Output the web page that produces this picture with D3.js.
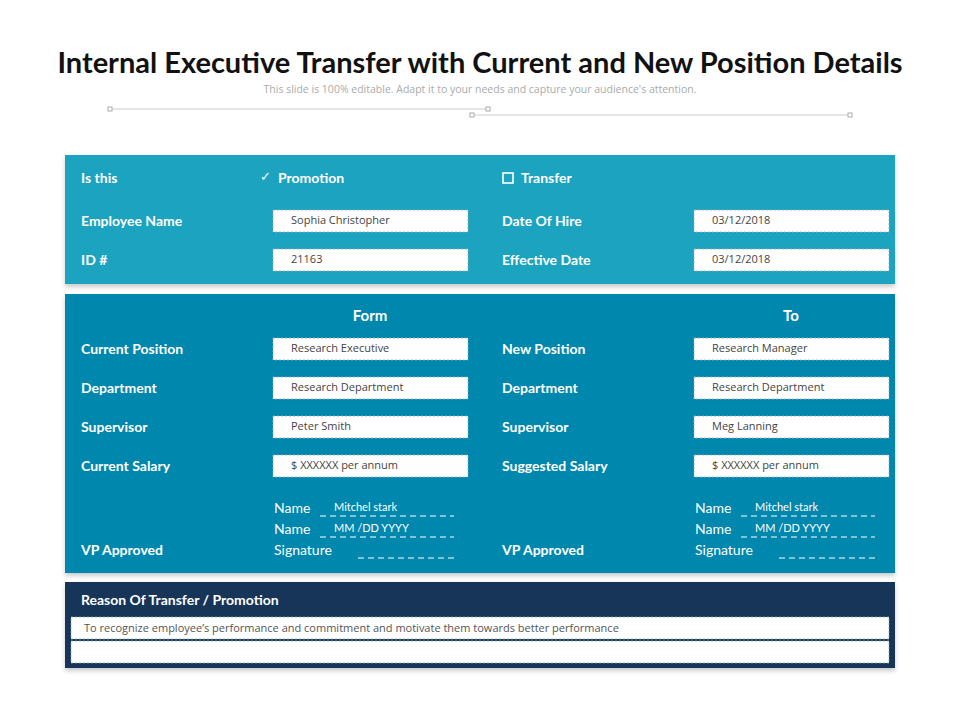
<!DOCTYPE html>
<html><head><meta charset="utf-8">
<script src="https://cdn.jsdelivr.net/npm/d3@7"></script>
<style>body{margin:0;background:#fff}</style></head>
<body><svg id="c" width="960" height="720"></svg>
<script>
const title = "Internal Executive Transfer  with Current and New Position Details";
const subtitle = "This slide is 100% editable. Adapt it to your needs and capture your audience's attention.";
const topRows = [
  {y:222, l:"Employee Name", lv:"Sophia Christopher", r:"Date Of Hire", rv:"03/12/2018"},
  {y:261, l:"ID #", lv:"21163", r:"Effective Date", rv:"03/12/2018"}
];
const midRows = [
  {y:350, l:"Current Position", lv:"Research Executive", r:"New Position", rv:"Research Manager"},
  {y:389, l:"Department", lv:"Research Department", r:"Department", rv:"Research Department"},
  {y:428, l:"Supervisor", lv:"Peter Smith", r:"Supervisor", rv:"Meg Lanning"},
  {y:467, l:"Current Salary", lv:"$ XXXXXX  per annum", r:"Suggested Salary", rv:"$ XXXXXX  per annum"}
];
const sigLabels = ["Name","Name","Signature"];
const sigValues = ["Mitchel stark","MM /DD  YYYY",""];
const reason = "To recognize employee’s performance and commitment and motivate them towards better performance";

const svg = d3.select("#c");
const F = "Lato, 'Open Sans', sans-serif";
svg.append("text").attr("x",480).attr("y",73).attr("text-anchor","middle").attr("font-family",F)
  .attr("font-weight","bold").attr("font-size",29).attr("fill","#111").text(title);
svg.append("text").attr("x",480).attr("y",93).attr("text-anchor","middle").attr("font-family","'Open Sans',sans-serif")
  .attr("font-size",10.5).attr("fill","#aaa").text(subtitle);
[[110,109,488,109],[472,115,850,115]].forEach(([x1,y1,x2,y2])=>{
  svg.append("line").attr("x1",x1).attr("y1",y1).attr("x2",x2).attr("y2",y2).attr("stroke","#ccc");
  [x1,x2].forEach(x=>svg.append("rect").attr("x",x-2).attr("y",y1-2).attr("width",4).attr("height",4).attr("fill","#fff").attr("stroke","#aaa"));
});
const defs = svg.append("defs");
const f = defs.append("filter").attr("id","sh").attr("x","-5%").attr("y","-20%").attr("width","110%").attr("height","160%");
f.append("feDropShadow").attr("dx",0).attr("dy",3).attr("stdDeviation",2).attr("flood-opacity",0.2);

function panel(y,h,col){svg.append("rect").attr("x",65).attr("y",y).attr("width",830).attr("height",h).attr("fill",col).attr("filter","url(#sh)");}
panel(155,129,"#1ea3c0"); panel(294,279,"#0687ad"); panel(582,86,"#163559");

function lab(x,y,t,opt={}){return svg.append("text").attr("x",x).attr("y",y).attr("font-family",F)
  .attr("font-weight",opt.w||"bold").attr("font-size",opt.s||14).attr("fill","#fff").attr("dominant-baseline","middle")
  .attr("text-anchor",opt.a||"start").text(t);}
function box(x,y,t,w=195){
  svg.append("rect").attr("x",x).attr("y",y-11).attr("width",w).attr("height",22).attr("fill","#fff")
    .attr("stroke","#9ab").attr("stroke-dasharray","2,2").attr("stroke-width",0.8);
  svg.append("text").attr("x",x+18).attr("y",y).attr("dominant-baseline","middle").attr("font-family","'Open Sans',sans-serif")
    .attr("font-size",11).attr("fill","#444").text(t);
}
lab(81,179,"Is this");
lab(260,178,"✓",{w:"normal",s:13}); lab(278,179,"Promotion");
svg.append("rect").attr("x",503).attr("y",173).attr("width",10).attr("height",10).attr("fill","none").attr("stroke","#fff").attr("stroke-width",1.6);
lab(521,179,"Transfer");
topRows.concat(midRows).forEach(r=>{lab(81,r.y,r.l); box(273,r.y-1,r.lv); lab(502,r.y,r.r); box(694,r.y-1,r.rv);});
lab(370,317,"Form",{a:"middle",s:15}); lab(791,317,"To",{a:"middle",s:15});
[274,695].forEach((x,i)=>{
  sigLabels.forEach((t,j)=>{
    const y=509+j*21;
    lab(x,y,t,{w:"normal",s:14});
    const lx = j<2? x+46 : x+84, lw = j<2? 134 : 96;
    svg.append("line").attr("x1",lx).attr("x2",lx+lw).attr("y1",y+7).attr("y2",y+7).attr("stroke","#fff").attr("stroke-dasharray","6,4");
    if(sigValues[j]) lab(x+60,y-1,sigValues[j],{w:"normal",s:11});
  });
  lab(i?502:81,551,"VP Approved");
});
lab(81,601,"Reason Of Transfer / Promotion");
[[71,617],[71,641]].forEach(([x,y],k)=>{
  svg.append("rect").attr("x",x).attr("y",y).attr("width",818).attr("height",22).attr("fill","#fff")
   .attr("stroke","#8aa").attr("stroke-dasharray","2,2").attr("stroke-width",0.8);
});
svg.append("text").attr("x",84).attr("y",629).attr("dominant-baseline","middle").attr("font-family","'Open Sans',sans-serif")
  .attr("font-size",11).attr("fill","#555").text(reason);
</script></body></html>
